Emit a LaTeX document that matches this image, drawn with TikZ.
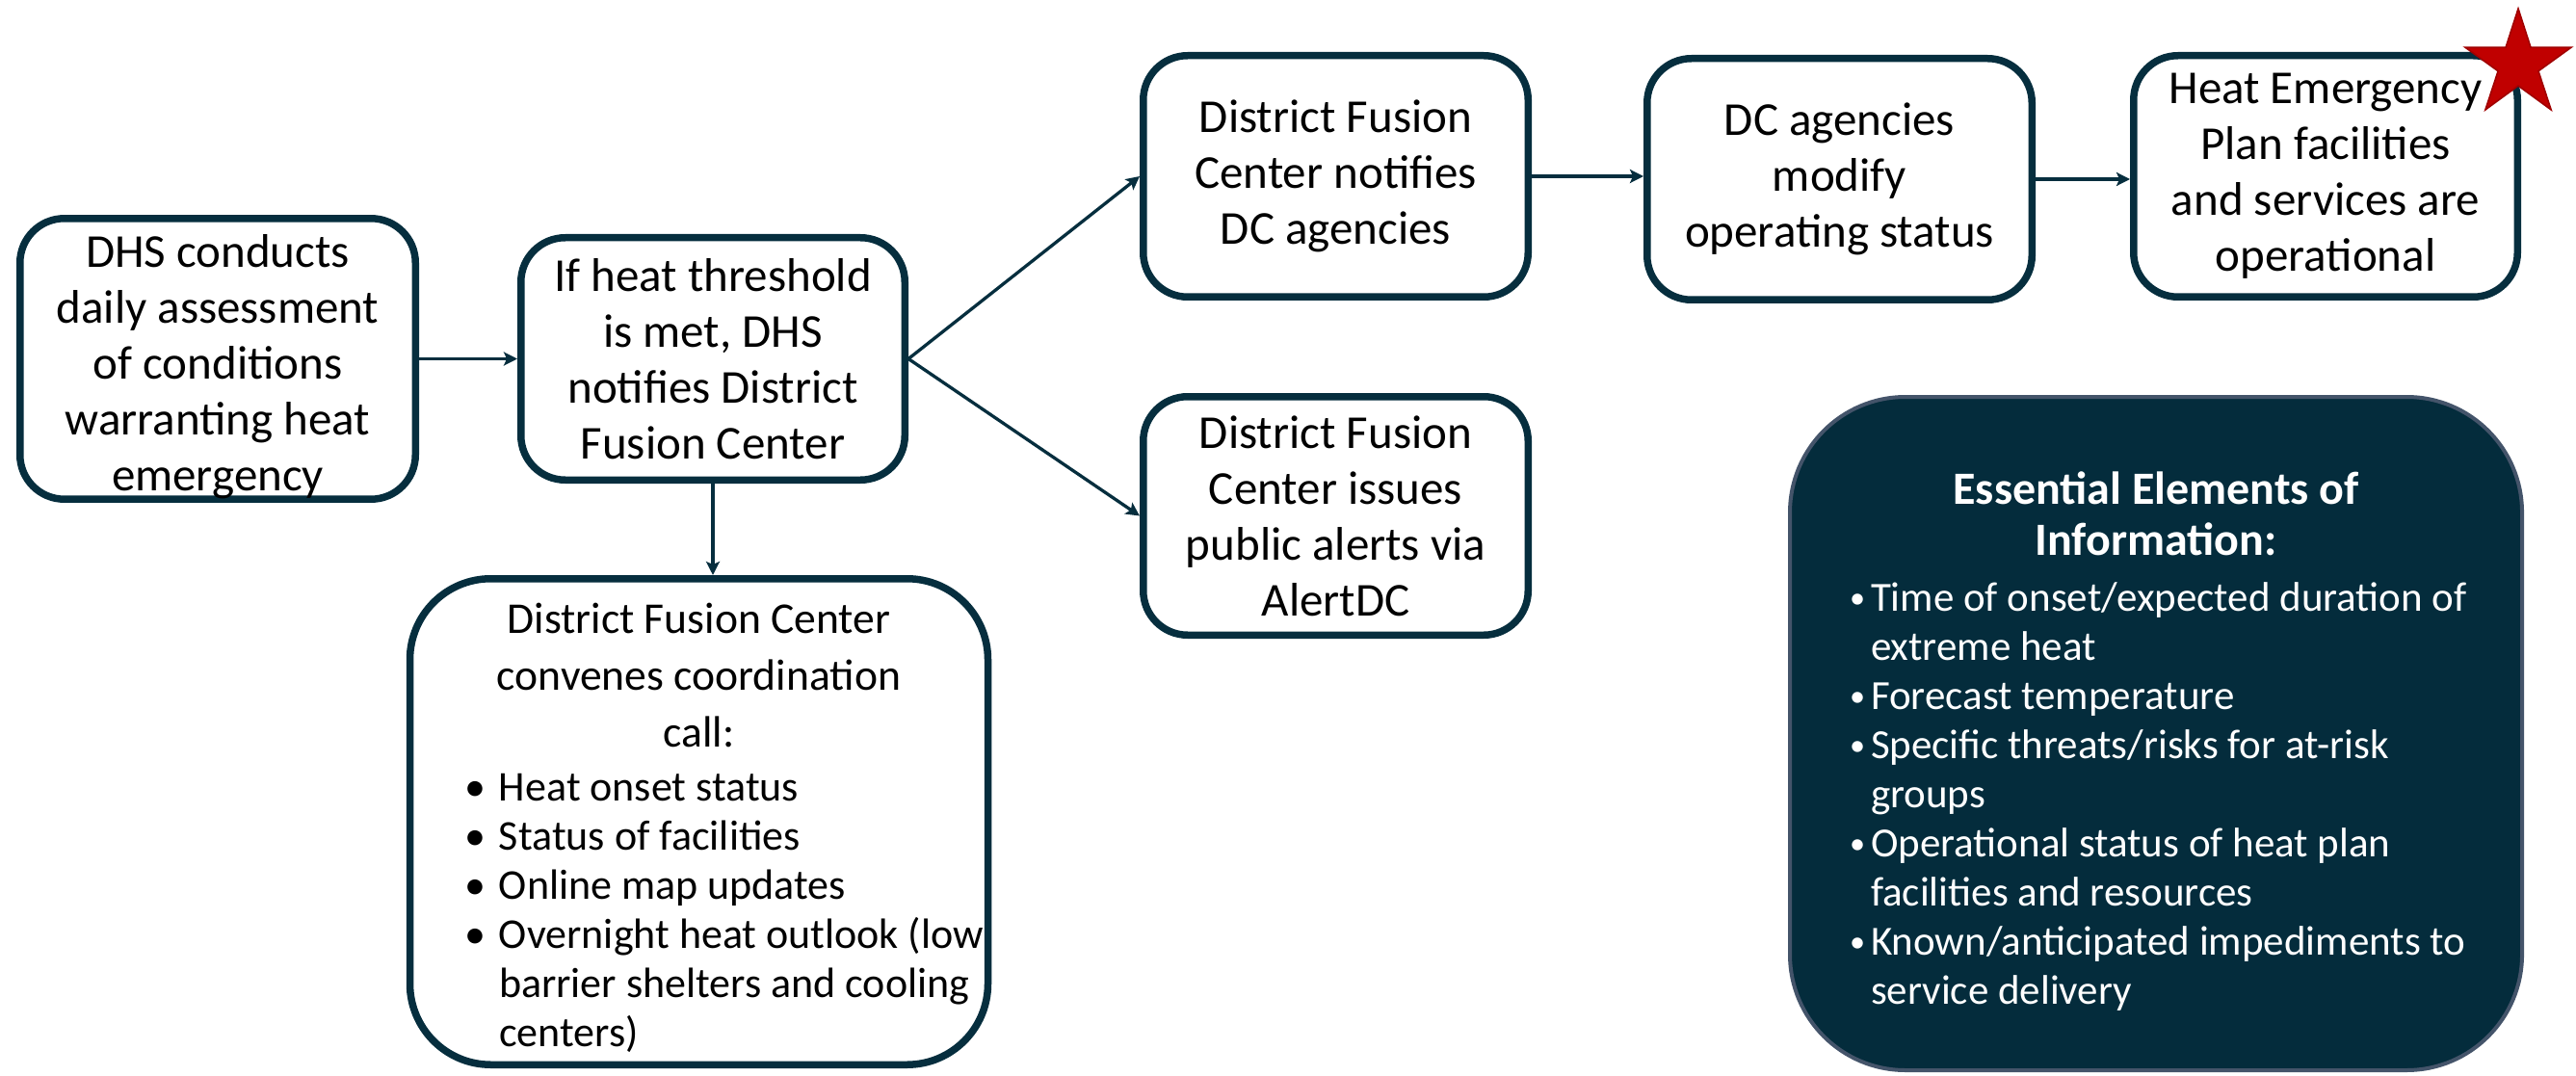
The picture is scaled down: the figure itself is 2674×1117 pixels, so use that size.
\documentclass[tikz,border=0pt]{standalone}
\usepackage{fontspec}
\usepackage{graphicx}
\setmainfont{Carlito}
\usetikzlibrary{arrows.meta,calc}

\definecolor{boxline}{HTML}{062E3E}
\definecolor{eeifill}{HTML}{042C3C}
\definecolor{eeiline}{HTML}{44546A}
\definecolor{starred}{HTML}{C00000}
\definecolor{stardark}{HTML}{A00000}

% bullet entries of the coordination-call box
\newcommand{\callitem}[1]{\par\hangindent=18pt\hangafter=1\noindent\makebox[18pt][l]{•}#1\par}
% bullet entries of the information box
\newcommand{\eeiitem}[1]{\par\hangindent=11pt\hangafter=1\noindent\makebox[11pt][l]{\raisebox{1.5pt}{\scalebox{0.75}{•}}}#1\par}

\tikzset{
  stepbox/.style={draw=boxline, line width=3.75pt, fill=white, rounded corners=23pt,
    inner sep=0pt, align=center, text=black,
    font=\fontsize{24.5pt}{29pt}\selectfont},
  flow/.style={draw=boxline, line width=1.65pt,
    -{Stealth[length=7pt,width=7pt,inset=1.5pt]}},
  infobox/.style={draw=eeiline, line width=2pt, fill=eeifill, rounded corners=60pt,
    inner sep=0pt, text=white},
}

\begin{document}
\begin{tikzpicture}[x=0.5pt,y=-0.5pt]
\useasboundingbox (0,0) rectangle (2674,1117);

% main flow
\node[stepbox, minimum width=205.25pt, minimum height=144.75pt] (assess) at (226,372.5)
  {\rule{0pt}{25.5pt}DHS conducts\\daily assessment\\of conditions\\warranting heat\\emergency};
\node[stepbox, minimum width=199.25pt, minimum height=125.75pt] (threshold) at (740,372.5)
  {If heat threshold\\is met, DHS\\notifies District\\Fusion Center};
\node[stepbox, minimum width=199.75pt, minimum height=125.25pt] (notify) at (1386.5,183)
  {District Fusion\\Center notifies\\DC agencies};
\node[stepbox, minimum width=199.75pt, minimum height=125.25pt] (modify) at (1909.5,186)
  {DC agencies\\modify\\operating status};
\node[stepbox, minimum width=199.25pt, minimum height=125.25pt] (operate) at (2414,183)
  {Heat Emergency\\Plan facilities\\and services are\\operational};
\node[stepbox, minimum width=199.75pt, minimum height=123.75pt] (alert) at (1386.5,535.5)
  {District Fusion\\Center issues\\public alerts via\\AlertDC};

% coordination call
\node[stepbox, rounded corners=42pt, minimum width=293.75pt, minimum height=252.25pt] (call) at (725.5,853)
  {\begin{minipage}{300pt}
   \vspace*{6.4pt}
   \fontsize{22.8pt}{29.5pt}\selectfont
   {\centering District Fusion Center\\convenes coordination\\call:\par}
   \vspace{2.8pt}
   \fontsize{22pt}{25.5pt}\selectfont\raggedright
   \leftskip=28.25pt
   \callitem{Heat onset status}
   \callitem{Status of facilities}
   \callitem{Online map updates}
   \callitem{Overnight heat outlook (low\newline barrier shelters and cooling\newline centers)}
   \end{minipage}};

% essential elements of information
\node[infobox, minimum width=380pt, minimum height=349.5pt] (eei) at (2238,761.5)
  {\begin{minipage}{340pt}
   \vspace*{8.5pt}
   \fontsize{24pt}{26.5pt}\selectfont
   {\centering\bfseries Essential Elements of\\Information:\par}
   \vspace{3.5pt}
   \fontsize{21.5pt}{25.5pt}\selectfont\raggedright
   \leftskip=11pt
   \eeiitem{Time of onset/expected duration of\newline extreme heat}
   \eeiitem{Forecast temperature}
   \eeiitem{Specific threats/risks for at-risk\newline groups}
   \eeiitem{Operational status of heat plan\newline facilities and resources}
   \eeiitem{Known/anticipated impediments to\newline service delivery}
   \end{minipage}};

% star marking the end state
\fill[starred, draw=stardark, line width=0.8pt] (2614,67)
  +(-90:58) -- +(-54:22) -- +(-18:58) -- +(18:22) -- +(54:58) -- +(90:22)
  -- +(126:58) -- +(162:22) -- +(198:58) -- +(234:22) -- cycle;

% connectors
\draw[flow] (assess.east) -- (threshold.west);
\draw[flow] (threshold.east) -- (notify.west);
\draw[flow] (threshold.east) -- (alert.west);
\draw[flow] (threshold.south) -- (threshold.south |- call.north);
\draw[flow] (notify.east) -- (notify.east -| modify.west);
\draw[flow] (modify.east) -- (modify.east -| operate.west);
\end{tikzpicture}
\end{document}
